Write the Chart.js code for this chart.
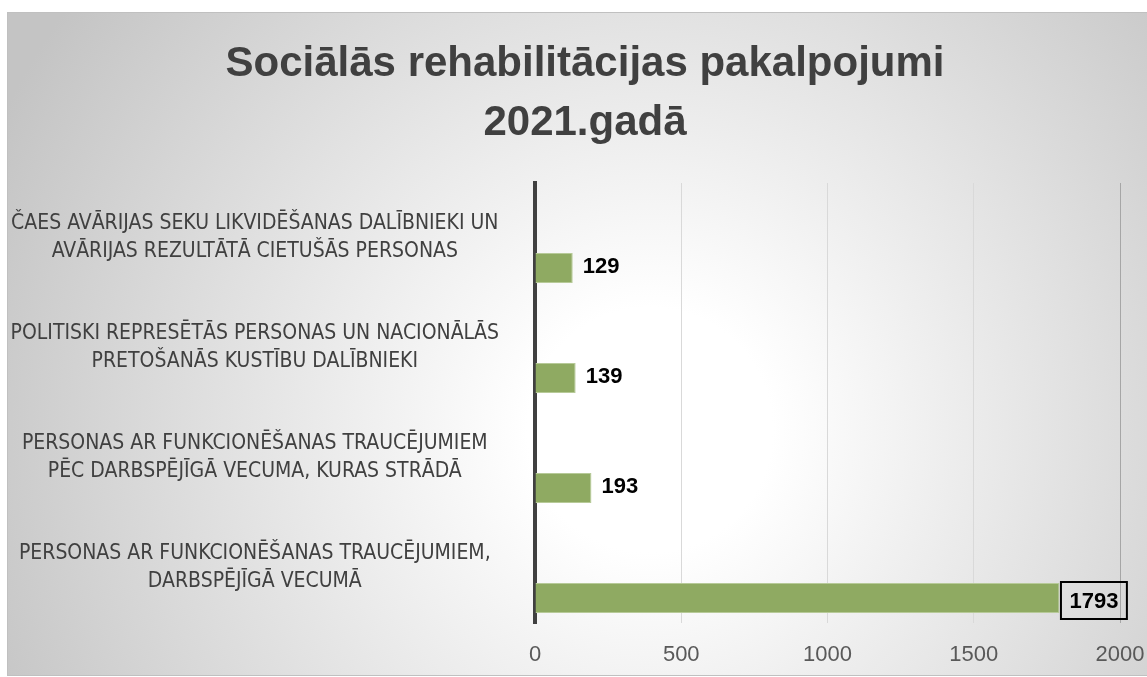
<!DOCTYPE html>
<html>
<head>
<meta charset="utf-8">
<script src="https://cdn.jsdelivr.net/npm/chart.js@4/dist/chart.umd.min.js"></script>
<style>
  html, body { margin: 0; padding: 0; background: #ffffff; }
  canvas { display: block; }
</style>
</head>
<body>
<canvas id="c" width="1147" height="677"></canvas>
<script>
// ---- data ----
const titleLines = ['Sociālās rehabilitācijas pakalpojumi', '2021.gadā'];
const categories = [
  ['ČAES AVĀRIJAS SEKU LIKVIDĒŠANAS DALĪBNIEKI UN', 'AVĀRIJAS REZULTĀTĀ CIETUŠĀS PERSONAS'],
  ['POLITISKI REPRESĒTĀS PERSONAS UN NACIONĀLĀS', 'PRETOŠANĀS KUSTĪBU DALĪBNIEKI'],
  ['PERSONAS AR FUNKCIONĒŠANAS TRAUCĒJUMIEM', 'PĒC DARBSPĒJĪGĀ VECUMA, KURAS STRĀDĀ'],
  ['PERSONAS AR FUNKCIONĒŠANAS TRAUCĒJUMIEM,', 'DARBSPĒJĪGĀ VECUMĀ']
];
const emptySeries = [null, null, null, null];
const values = [129, 139, 193, 1793];
const xTicks = [0, 500, 1000, 1500, 2000];
const xTickLabels = ['0', '500', '1000', '1500', '2000'];

// ---- plugins ----
const backgroundPlugin = {
  id: 'bgPanel',
  beforeDraw(chart) {
    const { ctx, width, height } = chart;
    ctx.save();
    ctx.fillStyle = '#ffffff';
    ctx.fillRect(0, 0, width, height);
    const g = ctx.createRadialGradient(650, 430, 0, 650, 430, 720);
    g.addColorStop(0, '#ffffff');
    g.addColorStop(0.17, '#ffffff');
    g.addColorStop(1, '#c4c4c4');
    ctx.fillStyle = g;
    ctx.fillRect(7, 12, width + 10, 664);
    ctx.strokeStyle = '#c0c0c0';
    ctx.lineWidth = 1;
    ctx.strokeRect(7.5, 12.5, width + 10, 663);
    ctx.restore();
  }
};

// centre the title over the region right of the frame's left margin
const titleShiftPlugin = {
  id: 'titleShift',
  afterLayout(chart, args, opts) {
    if (chart.titleBlock) chart.titleBlock.left = opts.left;
  }
};

const valueLabelPlugin = {
  id: 'valueLabels',
  afterDatasetsDraw(chart, args, opts) {
    const meta = chart.getDatasetMeta(1);
    const ds = chart.data.datasets[1].data;
    const ctx = chart.ctx;
    ctx.save();
    ctx.font = 'bold 22px "Liberation Sans", Arial, sans-serif';
    ctx.fillStyle = '#000000';
    ctx.textBaseline = 'middle';
    ctx.textAlign = 'left';
    meta.data.forEach((bar, i) => {
      const text = String(ds[i]);
      if (opts.boxed.includes(i)) {
        const w = ctx.measureText(text).width;
        const bx = bar.x + 1.5, by = bar.y - 16, bw = w + 17, bh = 37;
        ctx.lineWidth = 2;
        ctx.strokeStyle = '#000000';
        ctx.strokeRect(bx, by, bw, bh);
        ctx.fillText(text, bx + 8.5, by + bh / 2 + 1);
      } else {
        ctx.fillText(text, bar.x + 10, bar.y - 1.5);
      }
    });
    ctx.restore();
  }
};

new Chart(document.getElementById('c'), {
  type: 'bar',
  data: {
    labels: categories,
    datasets: [
      {
        label: '',
        data: emptySeries,
        backgroundColor: 'rgba(0,0,0,0)'
      },
      {
        label: 'Pakalpojumi',
        data: values,
        backgroundColor: '#8faa62',
        borderColor: '#b7ca98',
        borderWidth: 1
      }
    ]
  },
  options: {
    indexAxis: 'y',
    responsive: false,
    animation: false,
    categoryPercentage: 12 / 11,
    barPercentage: 0.5,
    layout: { padding: { left: 0, right: 27, top: 0, bottom: 9 } },
    plugins: {
      legend: { display: false },
      tooltip: { enabled: false },
      title: {
        display: true,
        text: titleLines,
        color: '#404040',
        font: { family: '"Liberation Sans", Arial, sans-serif', size: 42, weight: 'bold', lineHeight: 1.4 },
        padding: { top: 35, bottom: 30.4 }
      },
      titleShift: { left: 50 },
      valueLabels: { boxed: [3] }
    },
    scales: {
      x: {
        type: 'linear',
        min: 0,
        max: 2000,
        afterBuildTicks: (s) => { s.ticks = xTicks.map(v => ({ value: v })); },
        afterFit: (s) => { s.height = 45; s.paddingLeft = 0; s.paddingRight = 0; },
        grid: {
          drawTicks: false,
          lineWidth: 1,
          color: (c) => {
            const v = c.tick ? c.tick.value : null;
            if (v === 0) return 'rgba(0,0,0,0)';
            if (v === 2000) return '#a6a6a6';
            return '#d9d9d9';
          }
        },
        border: { display: false },
        ticks: {
          color: '#595959',
          padding: 19,
          font: { family: '"Liberation Sans", Arial, sans-serif', size: 22 },
          callback: (v, i) => xTickLabels[i]
        }
      },
      y: {
        afterFit: (s) => { s.width = 535; s.paddingTop = 0; s.paddingBottom = 0; },
        grid: { display: true, drawTicks: false, color: 'rgba(0,0,0,0)' },
        border: { display: true, color: '#404040', width: 4 },
        ticks: {
          crossAlign: 'center',
          padding: 36,
          labelOffset: -0.5,
          color: '#404040',
          font: { family: '"Liberation Sans Narrow", "DejaVu Sans Condensed", sans-serif', size: 21, lineHeight: 1.34 }
        }
      }
    }
  },
  plugins: [backgroundPlugin, titleShiftPlugin, valueLabelPlugin]
});
</script>
</body>
</html>
